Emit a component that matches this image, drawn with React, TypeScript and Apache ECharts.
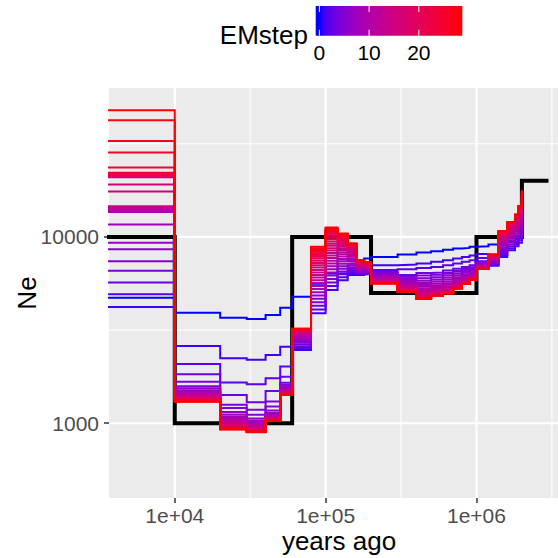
import React, { useEffect, useRef } from "react";
import * as echarts from "echarts";

// Start of each piecewise-constant segment (years ago); the last entry is where the curves end.
const stepTimes = [
  1000, 1e4, 2e4, 3e4, 4e4, 5e4, 6e4, 8e4, 1e5, 1.2e5, 1.4e5, 1.6e5, 1.8e5, 2e5,
  3e5, 4e5, 5e5, 6e5, 7e5, 8e5, 9e5, 1e6, 1.2e6, 1.4e6, 1.6e6, 1.8e6, 1.9e6, 2e6,
];

// EM iterations 0..28
const emSteps = Array.from({ length: 29 }, (_, i) => i);
const maxStep = 28;

// Ne for each segment (rows follow stepTimes), one value per EM step (columns 0..28)
const neBySegment: number[][] = [
  [4710, 4200, 4930, 5700, 6580, 7410, 8590, 9290, 11650, 13600, 13800, 14000, 14200, 14400, 14600, 17500, 19100, 20900, 21100, 21300, 21500, 21700, 21900, 22100, 23600, 28400, 32700, 42200, 47800],
  [3917, 2598, 2080, 1832, 1672, 1580, 1540, 1505, 1480, 1460, 1442, 1428, 1415, 1403, 1392, 1382, 1373, 1365, 1357, 1350, 1344, 1338, 1332, 1327, 1322, 1318, 1314, 1310, 1306],
  [3680, 2233, 1652, 1419, 1256, 1206, 1150, 1115, 1088, 1066, 1048, 1033, 1020, 1008, 998, 989, 981, 974, 967, 961, 956, 951, 946, 942, 938, 934, 931, 928, 925],
  [3624, 2188, 1620, 1297, 1181, 1110, 1060, 1035, 1015, 998, 984, 972, 962, 953, 945, 938, 932, 927, 922, 918, 914, 911, 908, 905, 903, 901, 899, 897, 895],
  [3810, 2323, 1745, 1490, 1307, 1228, 1170, 1140, 1122, 1108, 1096, 1086, 1078, 1071, 1065, 1060, 1056, 1052, 1049, 1046, 1044, 1042, 1040, 1038, 1037, 1036, 1035, 1034, 1033],
  [4170, 2576, 2013, 1778, 1650, 1608, 1578, 1555, 1537, 1522, 1509, 1498, 1488, 1480, 1472, 1465, 1459, 1454, 1449, 1445, 1441, 1437, 1434, 1431, 1428, 1426, 1424, 1422, 1420],
  [4775, 2470, 2530, 2590, 2650, 2710, 2760, 2810, 2855, 2895, 2930, 2965, 2995, 3020, 3045, 3065, 3085, 3100, 3115, 3130, 3142, 3154, 3165, 3175, 3185, 3194, 3202, 3210, 3218],
  [5600, 3890, 4080, 4270, 4460, 4650, 4850, 5050, 5250, 5450, 5650, 5850, 6050, 6250, 6450, 6650, 6850, 7050, 7250, 7450, 7650, 7830, 8000, 8160, 8310, 8450, 8580, 8700, 8850],
  [6370, 5190, 5450, 5700, 5950, 6200, 6450, 6700, 6950, 7200, 7450, 7700, 7950, 8200, 8450, 8700, 8950, 9200, 9450, 9700, 9950, 10200, 10400, 10600, 10750, 10900, 11000, 11100, 11230],
  [6370, 5860, 6080, 6300, 6520, 6740, 6960, 7180, 7400, 7620, 7840, 8060, 8280, 8500, 8700, 8880, 9050, 9200, 9350, 9500, 9640, 9770, 9890, 10000, 10100, 10190, 10270, 10350, 10420],
  [6400, 6240, 6400, 6560, 6720, 6880, 7040, 7200, 7360, 7520, 7680, 7840, 8000, 8150, 8290, 8420, 8540, 8650, 8750, 8840, 8920, 8990, 9050, 9100, 9140, 9170, 9190, 9200, 9210],
  [6900, 6240, 6300, 6360, 6420, 6480, 6540, 6600, 6660, 6720, 6780, 6840, 6900, 6960, 7020, 7080, 7130, 7180, 7230, 7270, 7310, 7350, 7380, 7410, 7430, 7450, 7470, 7490, 7500],
  [7650, 6300, 6350, 6400, 6450, 6500, 6550, 6600, 6650, 6700, 6750, 6800, 6850, 6900, 6950, 7000, 7040, 7080, 7110, 7140, 7170, 7200, 7220, 7240, 7255, 7270, 7280, 7290, 7300],
  [7810, 7050, 6640, 6500, 6420, 6340, 6260, 6190, 6120, 6060, 6000, 5950, 5900, 5860, 5820, 5790, 5760, 5740, 5720, 5700, 5685, 5672, 5660, 5650, 5645, 5640, 5636, 5633, 5630],
  [8050, 7110, 6710, 6240, 6120, 6000, 5890, 5790, 5700, 5620, 5550, 5480, 5420, 5370, 5320, 5280, 5240, 5210, 5180, 5160, 5140, 5120, 5105, 5095, 5088, 5082, 5077, 5073, 5070],
  [8250, 7200, 6800, 6400, 6200, 6000, 5820, 5660, 5520, 5400, 5290, 5190, 5100, 5020, 4960, 4900, 4850, 4810, 4770, 4740, 4715, 4695, 4680, 4668, 4658, 4651, 4646, 4642, 4640],
  [8380, 7350, 6900, 6450, 6260, 6080, 5910, 5760, 5620, 5500, 5390, 5290, 5200, 5130, 5070, 5020, 4980, 4945, 4915, 4890, 4870, 4855, 4845, 4840, 4836, 4834, 4832, 4831, 4830],
  [8520, 7500, 7050, 6600, 6400, 6220, 6050, 5900, 5760, 5640, 5530, 5430, 5340, 5260, 5200, 5150, 5110, 5075, 5050, 5030, 5015, 5005, 4998, 4992, 4988, 4985, 4983, 4981, 4980],
  [8670, 7650, 7200, 6750, 6560, 6380, 6220, 6080, 5950, 5840, 5740, 5650, 5580, 5520, 5470, 5430, 5400, 5375, 5355, 5340, 5328, 5318, 5310, 5304, 5299, 5296, 5293, 5291, 5290],
  [8730, 7800, 7350, 6900, 6720, 6560, 6420, 6290, 6170, 6070, 5980, 5900, 5840, 5790, 5750, 5715, 5690, 5670, 5655, 5642, 5632, 5624, 5618, 5613, 5609, 5606, 5603, 5601, 5600],
  [8840, 7950, 7500, 7050, 6880, 6730, 6590, 6470, 6360, 6270, 6190, 6120, 6070, 6030, 6000, 5975, 5955, 5940, 5930, 5922, 5916, 5911, 5907, 5905, 5903, 5902, 5901, 5900, 5899],
  [8900, 8100, 7700, 7400, 7320, 7250, 7180, 7120, 7060, 7010, 6970, 6930, 6900, 6870, 6845, 6825, 6808, 6795, 6785, 6777, 6770, 6765, 6761, 6758, 6755, 6753, 6752, 6751, 6750],
  [9100, 7000, 7080, 7160, 7230, 7300, 7360, 7420, 7480, 7530, 7580, 7630, 7670, 7710, 7750, 7780, 7810, 7840, 7870, 7895, 7920, 7940, 7960, 7975, 7990, 8005, 8020, 8035, 8050],
  [9300, 7800, 8000, 8200, 8400, 8600, 8800, 8980, 9150, 9300, 9450, 9590, 9720, 9840, 9950, 10050, 10140, 10220, 10300, 10370, 10430, 10490, 10540, 10590, 10630, 10670, 10710, 10740, 10770],
  [9500, 8490, 8700, 8920, 9140, 9360, 9580, 9800, 10010, 10210, 10400, 10580, 10750, 10910, 11060, 11200, 11330, 11450, 11560, 11660, 11750, 11820, 11880, 11930, 11970, 12000, 12015, 12025, 12030],
  [9700, 8900, 9150, 9400, 9650, 9900, 10150, 10400, 10640, 10870, 11090, 11300, 11500, 11690, 11870, 12040, 12200, 12350, 12490, 12620, 12740, 12850, 12940, 13010, 13070, 13110, 13140, 13160, 13180],
  [9900, 9300, 9600, 9900, 10200, 10500, 10800, 11100, 11400, 11700, 11980, 12250, 12510, 12760, 13000, 13220, 13430, 13620, 13800, 13960, 14100, 14220, 14320, 14410, 14480, 14540, 14590, 14620, 14650],
  [10200, 9800, 10200, 10600, 11000, 11400, 11800, 12200, 12600, 13000, 13400, 13800, 14200, 14600, 15000, 15400, 15750, 16050, 16350, 16600, 16850, 17050, 17250, 17400, 17520, 17620, 17700, 17760, 17800],
];

// True (simulated) history, black
const trueTimes = [1000, 1e4, 6e4, 2e5, 1e6, 2e6, 3e6];
const trueNe = [10000, 1000, 10000, 5000, 10000, 20000, 20000];

// Axes (log10 space)
const xRange = [3665, 3.47e6];
const yRange = [397, 62950];
const xTickValues = [1e4, 1e5, 1e6];
const xMinorValues = [3.1623e4, 3.1623e5, 3.1623e6];
const yTickValues = [1000, 10000];
const yMinorValues = [3162.3, 31623];
const legendBreaks = [0, 10, 20];

const FONT = "'Liberation Sans', Arial, Helvetica, sans-serif";

// ---- Lab colour interpolation (as ggplot's gradient) ----
function srgbToLin(c: number) {
  c /= 255;
  return c <= 0.04045 ? c / 12.92 : Math.pow((c + 0.055) / 1.055, 2.4);
}
function linToSrgb(c: number) {
  c = Math.max(0, Math.min(1, c));
  const v = c <= 0.0031308 ? 12.92 * c : 1.055 * Math.pow(c, 1 / 2.4) - 0.055;
  return Math.round(Math.max(0, Math.min(1, v)) * 255);
}
const WN = [0.95047, 1, 1.08883];
const D = 6 / 29;
function fLab(t: number) {
  return t > D * D * D ? Math.cbrt(t) : t / (3 * D * D) + 4 / 29;
}
function fInv(t: number) {
  return t > D ? t * t * t : 3 * D * D * (t - 4 / 29);
}
function rgbToLab(rgb: number[]) {
  const [r, g, b] = rgb.map(srgbToLin);
  const X = 0.4124 * r + 0.3576 * g + 0.1805 * b;
  const Y = 0.2126 * r + 0.7152 * g + 0.0722 * b;
  const Z = 0.0193 * r + 0.1192 * g + 0.9505 * b;
  const fx = fLab(X / WN[0]);
  const fy = fLab(Y / WN[1]);
  const fz = fLab(Z / WN[2]);
  return [116 * fy - 16, 500 * (fx - fy), 200 * (fy - fz)];
}
function labToHex(lab: number[]) {
  const fy = (lab[0] + 16) / 116;
  const fx = fy + lab[1] / 500;
  const fz = fy - lab[2] / 200;
  const X = WN[0] * fInv(fx);
  const Y = WN[1] * fInv(fy);
  const Z = WN[2] * fInv(fz);
  const r = 3.2406 * X - 1.5372 * Y - 0.4986 * Z;
  const g = -0.9689 * X + 1.8758 * Y + 0.0415 * Z;
  const b = 0.0557 * X - 0.204 * Y + 1.057 * Z;
  const h = (v: number) => linToSrgb(v).toString(16).padStart(2, "0");
  return "#" + h(r) + h(g) + h(b);
}
const LOW_LAB = rgbToLab([0, 0, 255]);
const HIGH_LAB = rgbToLab([255, 0, 0]);
function stepColor(t: number) {
  const u = Math.max(0, Math.min(1, t));
  return labToHex(LOW_LAB.map((v, i) => v + (HIGH_LAB[i] - v) * u));
}

const lg = (v: number) => Math.log10(v);

export default function App() {
  const ref = useRef<HTMLDivElement>(null);
  useEffect(() => {
    if (!ref.current) return;
    const chart = echarts.init(ref.current, undefined, { renderer: "svg" });
    const xMin = lg(xRange[0]);
    const xMax = lg(xRange[1]);
    const yMin = lg(yRange[0]);
    const yMax = lg(yRange[1]);

    const gridLine = (pts: number[][], width: number) => ({
      type: "line",
      data: pts,
      symbol: "none",
      silent: true,
      z: 1,
      lineStyle: { color: "#ffffff", width, type: "solid" },
    });
    const gridSeries = [
      ...xMinorValues.map((v) => gridLine([[lg(v), yMin], [lg(v), yMax]], 1.1)),
      ...yMinorValues.map((v) => gridLine([[xMin, lg(v)], [xMax, lg(v)]], 1.1)),
      ...xTickValues.map((v) => gridLine([[lg(v), yMin], [lg(v), yMax]], 2.2)),
      ...yTickValues.map((v) => gridLine([[xMin, lg(v)], [xMax, lg(v)]], 2.2)),
    ];

    const trueSeries = {
      type: "line",
      name: "truth",
      step: "end",
      symbol: "none",
      silent: true,
      z: 2,
      lineStyle: { color: "#000000", width: 4, join: "miter", cap: "butt" },
      data: trueTimes.map((t, i) => [lg(t), lg(trueNe[i])]),
    };

    const emSeries = emSteps.map((k) => ({
      type: "line",
      name: "EMstep " + k,
      step: "end",
      symbol: "none",
      silent: true,
      z: 3,
      lineStyle: { color: stepColor(k / maxStep), width: 2, join: "miter", cap: "butt" },
      data: stepTimes.map((t, i) => [lg(t), lg(neBySegment[i][k])]),
    }));

    // colour bar legend
    const barX = 315.7;
    const barY = 6;
    const barW = 146.6;
    const barH = 29.7;
    const half = barW / 40;
    const valToX = (v: number) => barX + half + (v / maxStep) * (barW - 2 * half);
    const stops: { offset: number; color: string }[] = [];
    const nStops = 40;
    for (let i = 0; i <= nStops; i++) {
      const off = i / nStops;
      const px = off * barW;
      const v = ((px - half) / (barW - 2 * half)) * maxStep;
      stops.push({ offset: off, color: stepColor(v / maxStep) });
    }
    const legendChildren: any[] = [
      {
        type: "rect",
        shape: { x: barX, y: barY, width: barW, height: barH },
        style: { fill: new echarts.graphic.LinearGradient(0, 0, 1, 0, stops) },
      },
      {
        type: "text",
        x: 308,
        y: 35,
        style: { text: "EMstep", font: `26px ${FONT}`, fill: "#000000", align: "right", verticalAlign: "middle" },
      },
    ];
    legendBreaks.forEach((b) => {
      const x = valToX(b);
      legendChildren.push(
        { type: "line", shape: { x1: x, y1: barY, x2: x, y2: barY + barH / 5 }, style: { stroke: "#ffffff", lineWidth: 1 } },
        { type: "line", shape: { x1: x, y1: barY + barH, x2: x, y2: barY + barH - barH / 5 }, style: { stroke: "#ffffff", lineWidth: 1 } },
        {
          type: "text",
          x,
          y: 52,
          style: { text: String(b), font: `21px ${FONT}`, fill: "#000000", align: "center", verticalAlign: "middle" },
        }
      );
    });

    const option: any = {
      animation: false,
      backgroundColor: "#ffffff",
      textStyle: { fontFamily: FONT },
      grid: {
        left: 109,
        right: 0,
        top: 88,
        bottom: 60,
        show: true,
        backgroundColor: "#EBEBEB",
        borderWidth: 0,
        containLabel: false,
        outerBoundsMode: "none",
      },
      xAxis: {
        type: "value",
        min: xMin,
        max: xMax,
        splitLine: { show: false },
        axisLine: { show: false },
        axisTick: {
          show: true,
          length: 5,
          lineStyle: { color: "#333333", width: 1.5 },
          customValues: xTickValues.map(lg),
        },
        axisLabel: {
          show: true,
          customValues: xTickValues.map(lg),
          margin: 7,
          fontSize: 21,
          color: "#4D4D4D",
          fontFamily: FONT,
          formatter: (v: number) => "1e+" + String(Math.round(v)).padStart(2, "0"),
        },
      },
      yAxis: {
        type: "value",
        min: yMin,
        max: yMax,
        splitLine: { show: false },
        axisLine: { show: false },
        axisTick: {
          show: true,
          length: 5,
          lineStyle: { color: "#333333", width: 1.5 },
          customValues: yTickValues.map(lg),
        },
        axisLabel: {
          show: true,
          customValues: yTickValues.map(lg),
          margin: 10,
          fontSize: 21,
          color: "#4D4D4D",
          fontFamily: FONT,
          formatter: (v: number) => String(Math.round(Math.pow(10, v))),
        },
      },
      graphic: [
        { type: "group", children: legendChildren },
        {
          type: "text",
          x: 339,
          y: 541,
          style: { text: "years ago", font: `26px ${FONT}`, fill: "#000000", align: "center", verticalAlign: "middle" },
        },
        {
          type: "text",
          x: 27,
          y: 293,
          rotation: Math.PI / 2,
          style: { text: "Ne", font: `26px ${FONT}`, fill: "#000000", align: "center", verticalAlign: "middle" },
        },
      ],
      series: [...gridSeries, trueSeries, ...emSeries],
    };
    chart.setOption(option);
    return () => chart.dispose();
  }, []);

  return (
    <div
      ref={ref}
      style={{ position: "fixed", left: 0, top: 0, width: 558, height: 558, background: "#ffffff" }}
    />
  );
}
